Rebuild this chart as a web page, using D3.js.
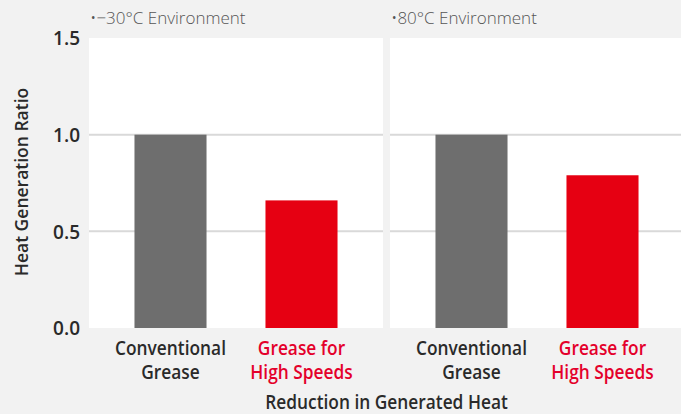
<!DOCTYPE html>
<html><head><meta charset="utf-8">
<script src="https://cdn.jsdelivr.net/npm/d3@7"></script>
<style>
body{margin:0;background:#f2f2f2;}
svg{display:block;}
.norm{font-family:"Open Sans",sans-serif;}
</style></head>
<body><svg id="c" width="681" height="414"></svg>
<script>
const panels = ["•−30°C Environment", "•80°C Environment"];
const categories = [["Conventional","Grease"],["Grease for","High Speeds"]];
const values30 = [1.0, 0.66];
const values80 = [1.0, 0.79];
const seriesValues = [values30, values80];
const yTicks = [0, 0.5, 1.0, 1.5];
const yTitle = "Heat Generation Ratio";
const xTitle = "Reduction in Generated Heat";

(function(){
const svg = d3.select("#c");
const plotTop = 38, plotBottom = 328;
const y = d3.scaleLinear().domain([0,1.5]).range([plotBottom, plotTop]);
const panelX = [[89,383],[390,681]];
const barColors = ["#6e6e6e","#e60012"];
const labelColors = ["#2a2a2a","#e4002b"];
const fs = 19.5, fw = 600;

svg.append("rect").attr("width",681).attr("height",414).attr("fill","#f2f2f2");

const probe = svg.append("text").attr("class","norm").attr("font-size",fs).attr("font-weight",fw).text("Conventional");
const sx = 111 / probe.node().getComputedTextLength();
probe.remove();

function condText(parent, cx, cy, txt, color){
  return parent.append("text").attr("class","norm").attr("text-anchor","middle")
    .attr("transform",`translate(${cx},${cy}) scale(${sx},1)`)
    .attr("font-size",fs).attr("font-weight",fw).attr("fill",color).text(txt);
}

panelX.forEach((px,i)=>{
  const g = svg.append("g");
  g.append("rect").attr("x",px[0]).attr("y",plotTop).attr("width",px[1]-px[0]).attr("height",plotBottom-plotTop).attr("fill","#fff");
  g.selectAll(".gl").data(yTicks.filter(t=>t>0 && t<1.5)).join("line")
    .attr("x1",px[0]).attr("x2",px[1]).attr("y1",d=>y(d)).attr("y2",d=>y(d))
    .attr("stroke","#d9d9d9").attr("stroke-width",2);
  const x = d3.scaleBand().domain([0,1]).range([px[0]+16, px[0]+16+262]).paddingInner(0.45).paddingOuter(0.225);
  g.selectAll(".bar").data(seriesValues[i]).join("rect")
    .attr("x",(d,j)=>x(j)).attr("width",x.bandwidth())
    .attr("y",d=>y(d)).attr("height",d=>plotBottom-y(d))
    .attr("fill",(d,j)=>barColors[j]);
  categories.forEach((lines,j)=>{
    lines.forEach((l,k)=>condText(g, x(j)+x.bandwidth()/2, 355+k*24, l, labelColors[j]));
  });
  g.append("text").attr("class","norm").attr("x",px[0]+1).attr("y",24)
    .attr("font-size",17).attr("font-weight",300).attr("fill","#555").text(panels[i]);
});

const ya = svg.append("g").attr("transform","translate(80,0)")
  .call(d3.axisLeft(y).tickValues(yTicks).tickFormat(d3.format(".1f")).tickSize(0).tickPadding(0));
ya.select(".domain").remove();
ya.selectAll("text").attr("class","norm").attr("font-size",19).attr("font-weight",600).attr("fill","#2a2a2a")
  .attr("dy","0.36em");

svg.append("text").attr("transform","translate(28,182) rotate(-90)").attr("text-anchor","middle")
  .attr("font-family","Open Sans").attr("font-weight",600).attr("font-size",17.5).attr("fill","#2a2a2a").text(yTitle);

condText(svg, 386.5, 408.5, xTitle, "#2a2a2a");
})();
</script></body></html>
